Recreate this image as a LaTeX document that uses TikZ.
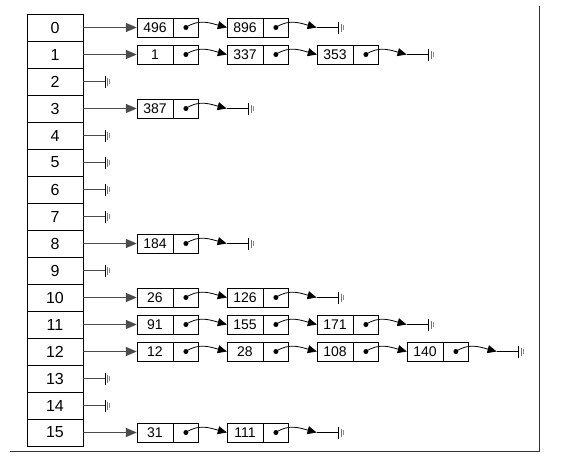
\documentclass[tikz,border=0pt]{standalone}
\usepackage{fontspec}
\setmainfont{Liberation Sans}
\usetikzlibrary{arrows.meta, positioning, calc}

\begin{document}
\begin{tikzpicture}[
        x=1pt, y=-1pt,
        % Styles
        cell/.style={
            rectangle,
            draw=black,
            minimum width=56pt,
            minimum height=27pt,
            inner sep=0pt,
            font=\fontsize{16}{19}\selectfont
        },
        val/.style={
            rectangle,
            draw=black,
            minimum width=36pt,
            minimum height=19pt,
            inner sep=0pt,
            font=\fontsize{14}{16}\selectfont
        },
        ptr/.style={val, minimum width=25pt},
        head/.style={-{Triangle[length=11pt, width=9pt]}, line width=1.3pt, draw=black!70},
        next/.style={-{Triangle[length=9pt, width=8pt]}, line width=0.8pt, draw=black},
        nil/.style={line width=0.8pt, draw=black}
    ]

    \useasboundingbox (0,0) rectangle (563,464);

    % ==============================
    % 1. ARRAY
    % ==============================
    \foreach \i in {0,...,15}
        \node[cell] (a\i) at (55, {27.5+27*\i}) {\i};

    % ==============================
    % 2. LIST NODES
    % ==============================
    \foreach \r/\c/\v in {0/1/496, 0/2/896,
                          1/1/1, 1/2/337, 1/3/353,
                          3/1/387,
                          8/1/184,
                          10/1/26, 10/2/126,
                          11/1/91, 11/2/155, 11/3/171,
                          12/1/12, 12/2/28, 12/3/108, 12/4/140,
                          15/1/31, 15/2/111} {
        \node[val] (v\r-\c) at ({155+90*(\c-1)}, {27.5+27*\r}) {\v};
        \node[ptr, right=0pt of v\r-\c] (p\r-\c) {};
        \fill (p\r-\c.center) circle (2.5);
    }

    % ==============================
    % 3. LINKS
    % ==============================
    \foreach \r in {0,1,3,8,10,11,12,15}
        \draw[head] (a\r.east) -- (v\r-1.west);

    \foreach \r/\c/\n in {0/1/2, 1/1/2, 1/2/3, 10/1/2, 11/1/2, 11/2/3,
                          12/1/2, 12/2/3, 12/3/4, 15/1/2}
        \draw[next] (p\r-\c.center) to[out=35, in=165] (v\r-\n.west);

    % ==============================
    % 4. NULL ENDS
    % ==============================
    \foreach \r/\c in {0/2, 1/3, 3/1, 8/1, 10/2, 11/3, 12/4, 15/2} {
        \coordinate (t\r) at ([xshift=28]p\r-\c.east);
        \coordinate (g\r) at ([xshift=22]t\r);
        \draw[next] (p\r-\c.center) to[out=35, in=165] (t\r);
        \draw[nil] (t\r) -- (g\r);
        \draw[line width=1.3pt] ([yshift=-6]g\r) -- ([yshift=6]g\r);
        \draw[black!55, line width=1pt] ([shift={(2.5,-4)}]g\r) -- ([shift={(2.5,4)}]g\r);
        \draw[black!45, line width=0.9pt] ([shift={(4.5,-2.5)}]g\r) -- ([shift={(4.5,2.5)}]g\r);
    }

    \foreach \r in {2,4,5,6,7,9,13,14} {
        \coordinate (g\r) at ([xshift=22]a\r.east);
        \draw[nil, line width=1.3pt, draw=black!70] (a\r.east) -- (g\r);
        \draw[line width=1.3pt] ([yshift=-6]g\r) -- ([yshift=6]g\r);
        \draw[black!55, line width=1pt] ([shift={(2.5,-4)}]g\r) -- ([shift={(2.5,4)}]g\r);
        \draw[black!45, line width=0.9pt] ([shift={(4.5,-2.5)}]g\r) -- ([shift={(4.5,2.5)}]g\r);
    }

    % ==============================
    % 5. FRAME
    % ==============================
    \draw[black!80, line width=0.9pt] (539,6) -- (539,451) -- (10,451);

\end{tikzpicture}
\end{document}
